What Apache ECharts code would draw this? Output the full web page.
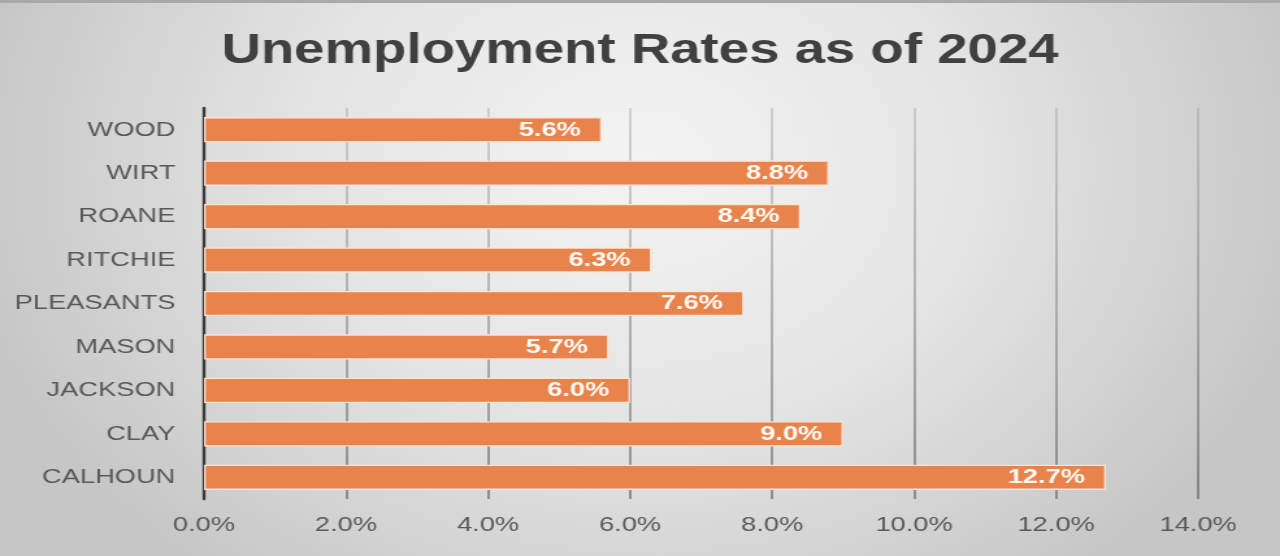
<!DOCTYPE html>
<html>
<head>
<meta charset="utf-8">
<script src="https://cdn.jsdelivr.net/npm/echarts@6/dist/echarts.min.js"></script>
<style>
  html, body { margin: 0; padding: 0; width: 1280px; height: 556px; overflow: hidden; background: #d0d0d0; }
  #chart { width: 985px; height: 556px; transform: scaleX(1.2995); transform-origin: 0 0; }
</style>
</head>
<body>
<div id="chart"></div>
<script>
const categories = ['WOOD', 'WIRT', 'ROANE', 'RITCHIE', 'PLEASANTS', 'MASON', 'JACKSON', 'CLAY', 'CALHOUN'];
const rates = [5.6, 8.8, 8.4, 6.3, 7.6, 5.7, 6.0, 9.0, 12.7];
const xTicks = { min: 0, max: 14, interval: 2 };
const titleText = 'Unemployment Rates as of 2024';

const chart = echarts.init(document.getElementById('chart'), null, { renderer: 'canvas' });
chart.setOption({
  animation: false,
  backgroundColor: {
    type: 'radial', x: 0.5, y: 0.3, r: 0.95,
    colorStops: [
      { offset: 0, color: '#f4f4f4' },
      { offset: 0.5, color: '#e4e4e4' },
      { offset: 1, color: '#c6c6c6' }
    ]
  },
  graphic: [
    { type: 'rect', shape: { x: 0, y: 0, width: 985, height: 3 }, style: { fill: '#a9a9a9' }, silent: true }
  ],
  title: {
    text: titleText,
    left: 'center',
    top: 30,
    padding: 0,
    textStyle: { fontFamily: 'Liberation Sans', fontWeight: 'bold', fontSize: 42, color: '#404040' }
  },
  grid: { left: 157, right: 63, top: 108, bottom: 57, containLabel: false },
  xAxis: {
    type: 'value',
    min: xTicks.min, max: xTicks.max, interval: xTicks.interval,
    axisLine: { show: false },
    axisTick: { show: false },
    axisLabel: {
      formatter: v => v.toFixed(1) + '%',
      fontFamily: 'Liberation Sans', fontSize: 21, color: '#595959', margin: 16
    },
    splitLine: {
      show: true,
      lineStyle: {
        width: 1.6,
        color: {
          type: 'linear', x: 0, y: 0, x2: 0, y2: 1,
          colorStops: [
            { offset: 0, color: 'rgba(150,150,150,0.45)' },
            { offset: 1, color: 'rgba(105,105,105,0.85)' }
          ]
        }
      }
    }
  },
  yAxis: {
    type: 'category',
    data: categories,
    inverse: true,
    axisLine: { show: true, lineStyle: { color: '#3a3a3a', width: 2.4 } },
    axisTick: { show: false },
    axisLabel: { fontFamily: 'Liberation Sans', fontSize: 21, color: '#595959', margin: 22 }
  },
  series: [{
    type: 'bar',
    data: rates,
    barCategoryGap: '42%',
    itemStyle: { color: '#e8834b', borderColor: '#fbe3d3', borderWidth: 1.3 },
    label: {
      show: true,
      position: 'insideRight',
      distance: 16,
      formatter: p => p.value.toFixed(1) + '%',
      fontFamily: 'Liberation Sans', fontWeight: 'bold', fontSize: 21, color: '#fffaf5'
    }
  }]
});
</script>
</body>
</html>
